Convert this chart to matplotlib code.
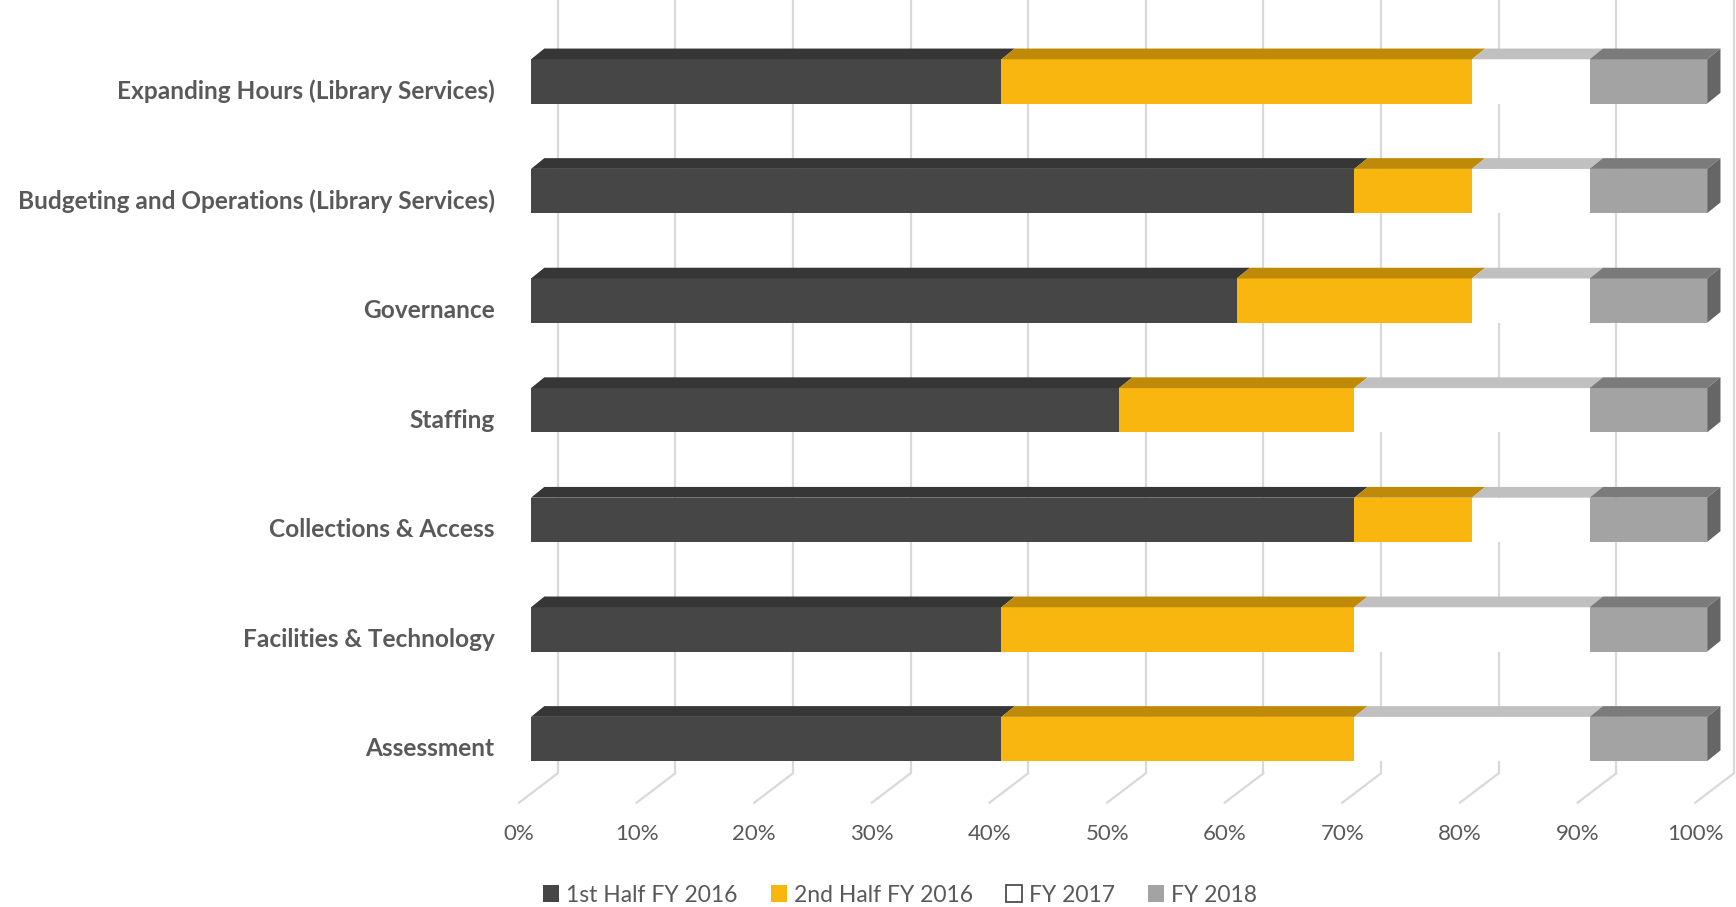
#!/usr/bin/env python3
"""
Avance de iniciativas por año fiscal, barras apiladas con efecto 3D.
"""
import matplotlib.pyplot as plt
from matplotlib.patches import Patch, Polygon

# Datos (porcentaje de avance por periodo)
categorias = [
    "Assessment",
    "Facilities & Technology",
    "Collections & Access",
    "Staffing",
    "Governance",
    "Budgeting and Operations (Library Services)",
    "Expanding Hours (Library Services)",
]
series = ["1st Half FY 2016", "2nd Half FY 2016", "FY 2017", "FY 2018"]
primera_mitad_2016 = [40, 40, 70, 50, 60, 70, 40]
segunda_mitad_2016 = [30, 30, 10, 20, 20, 10, 40]
fy_2017 = [20, 20, 10, 20, 10, 10, 10]
fy_2018 = [10, 10, 10, 10, 10, 10, 10]
ticks_x = [0, 10, 20, 30, 40, 50, 60, 70, 80, 90, 100]

# Colores: cara frontal, cara superior
color_frente = ["#464646", "#F8B60E", "#FFFFFF", "#A3A3A3"]
color_arriba = ["#363636", "#BF8A07", "#C0C0C0", "#7B7B7B"]
color_lado = "#666666"
color_texto = "#595959"
color_grid = "#D9D9D9"

# Geometria del efecto 3D (en unidades de datos)
ALTO = 0.404
PROF_X, PROF_Y = 1.13, 0.098
PARED_X, PISO_Y = 2.27, -0.313
FRENTE_X, FRENTE_Y = -1.02, -0.581

FUENTE = "Lato"


def main():
    fig = plt.figure(figsize=(17.36, 9.07), dpi=100)
    ax = fig.add_axes([0, 0, 1, 1])
    ax.set_xlim(-45.15, 102.45)
    ax.set_ylim(-1.533, 6.743)
    ax.axis("off")

    # Pared del fondo y piso
    for t in ticks_x:
        ax.plot([t + PARED_X, t + PARED_X], [PISO_Y, 7], color=color_grid,
                lw=1.6, zorder=1, solid_capstyle="butt")
        ax.plot([t + PARED_X, t + FRENTE_X], [PISO_Y, FRENTE_Y],
                color=color_grid, lw=1.6, zorder=1)
        ax.text(t + FRENTE_X, -0.87, f"{t}%", ha="center", va="center",
                fontsize=16, color=color_texto, family=FUENTE)

    datos = [primera_mitad_2016, segunda_mitad_2016, fy_2017, fy_2018]
    ys = list(range(len(categorias)))
    izquierda = [0] * len(categorias)

    for k, valores in enumerate(datos):
        ax.barh(ys, valores, left=izquierda, height=ALTO,
                color=color_frente[k], zorder=3, linewidth=0)
        for y, l, w in zip(ys, izquierda, valores):
            top = y + ALTO / 2
            ax.add_patch(Polygon(
                [(l, top), (l + w, top), (l + w + PROF_X, top + PROF_Y),
                 (l + PROF_X, top + PROF_Y)],
                closed=True, facecolor=color_arriba[k], edgecolor="none",
                zorder=3))
        izquierda = [a + b for a, b in zip(izquierda, valores)]

    # Cara lateral al final de cada barra
    for y, r in zip(ys, izquierda):
        base, top = y - ALTO / 2, y + ALTO / 2
        ax.add_patch(Polygon(
            [(r, base), (r, top), (r + PROF_X, top + PROF_Y),
             (r + PROF_X, base + PROF_Y)],
            closed=True, facecolor=color_lado, edgecolor="none", zorder=3))

    # Etiquetas de categorias
    for y, nombre in zip(ys, categorias):
        ax.text(-3.1, y - 0.09, nombre, ha="right", va="center",
                fontsize=17.6, fontweight="bold", color=color_texto,
                family=FUENTE)

    # Leyenda
    handles = [
        Patch(facecolor=color_frente[k],
              edgecolor="#404040" if k == 2 else color_frente[k],
              linewidth=1.2 if k == 2 else 0, label=s)
        for k, s in enumerate(series)
    ]
    fig.legend(handles=handles, loc="center", ncol=4, frameon=False,
               bbox_to_anchor=(900 / 1736, 1 - 895 / 907),
               prop={"family": FUENTE, "size": 16.5}, labelcolor=color_texto,
               handlelength=0.7, handleheight=0.7, handletextpad=0.3,
               columnspacing=1.45)

    fig.savefig("out.png", dpi=100, facecolor="white")
    plt.close(fig)


if __name__ == "__main__":
    main()
